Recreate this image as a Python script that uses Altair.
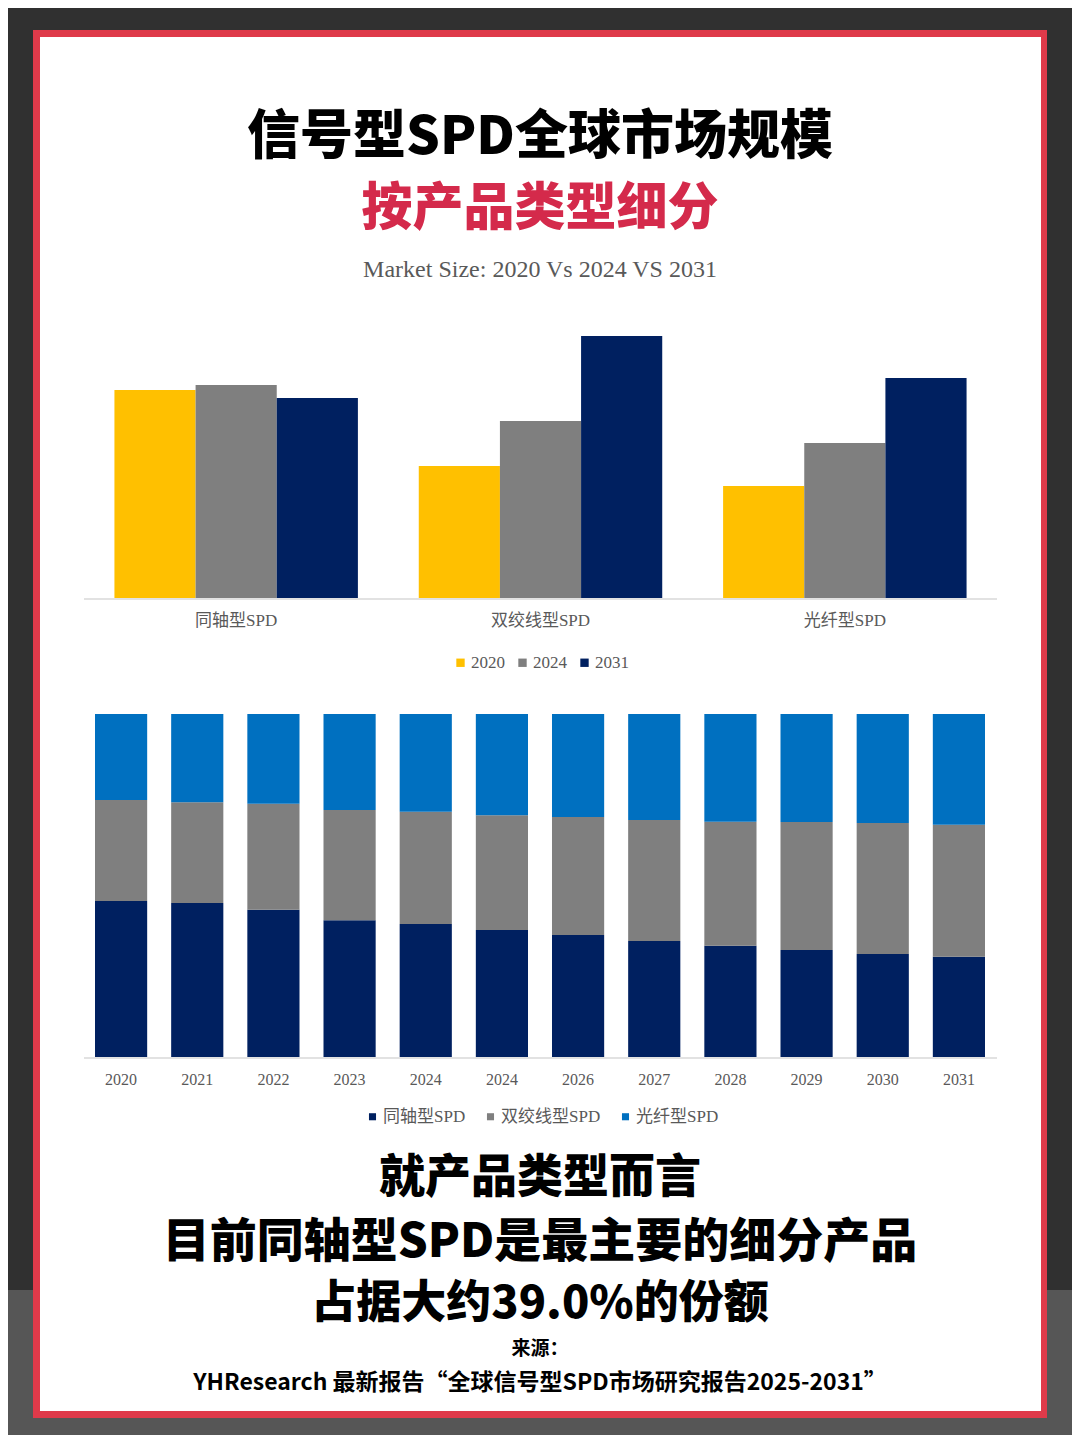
import altair as alt
import pandas as pd

# 数据
products = ["同轴型SPD", "双绞线型SPD", "光纤型SPD"]
years_cmp = ["2020", "2024", "2031"]
size_2020 = [20.8, 13.2, 11.2]
size_2024 = [21.3, 17.7, 15.5]
size_2031 = [20.0, 26.2, 22.0]

year_labels = ["2020", "2021", "2022", "2023", "2024", "2024",
               "2026", "2027", "2028", "2029", "2030", "2031"]
share_coax = [45.5, 44.9, 42.9, 39.9, 38.8, 37.0, 35.6, 33.8, 32.4, 31.2, 30.0, 29.2]
share_twist = [29.4, 29.4, 30.9, 32.1, 32.7, 33.5, 34.4, 35.3, 36.2, 37.3, 38.2, 38.5]
share_fiber = [25.1, 25.7, 26.2, 28.0, 28.5, 29.5, 30.0, 30.9, 31.4, 31.5, 31.8, 32.3]

W, H = 1064, 1427
O = 8  # 页面边距


def px(v):
    return v - O


LABEL_FONT = "Liberation Serif, Noto Sans CJK SC"
HEAD_FONT = "Noto Sans CJK SC"

# 背景与边框
def box(x1, x2, y1, y2, color):
    return alt.Chart(pd.DataFrame({"a": [0]})).mark_rect(color=color).encode(
        x=alt.value(px(x1)), x2=alt.value(px(x2)),
        y=alt.value(px(y1)), y2=alt.value(px(y2)))


bg_low = box(0, 1080, 1290, 1443, "#565656")
frame = box(33, 1047, 30, 1418, "#df3a4a")
inner = box(40, 1041, 37, 1411, "#ffffff")


def line(text, x, y, size, color="#000000", weight="normal", font=HEAD_FONT):
    return alt.Chart(pd.DataFrame({"t": [text]})).mark_text(
        font=font, fontSize=size, fontWeight=weight, color=color,
        align="center", baseline="middle").encode(
        text="t:N", x=alt.value(px(x)), y=alt.value(px(y)))


texts = [
    line("信号型SPD全球市场规模", 540, 138, 53, weight=900),
    line("按产品类型细分", 540, 210, 51, color="#d42a4b", weight=900),
    line("Market Size: 2020 Vs 2024 VS 2031", 540, 270, 24, color="#595959",
         font="Liberation Serif"),
    line("就产品类型而言", 540, 1178, 46, weight=900),
    line("目前同轴型SPD是最主要的细分产品", 540, 1243, 47, weight=900),
    line("占据大约39.0%的份额", 540, 1304, 45, weight=900),
    line("来源：", 540, 1349, 19, weight="bold"),
    line("YHResearch 最新报告“全球信号型SPD市场研究报告2025-2031”", 540, 1383, 23,
         weight="bold"),
]

# 图一：分组柱状图
df1 = pd.DataFrame({
    "product": products * 3,
    "year": [y for y in years_cmp for _ in products],
    "size": size_2020 + size_2024 + size_2031,
})
x1 = alt.Scale(domain=products, range=[px(84), px(997)], paddingInner=0.2, paddingOuter=0.1)

bars1 = alt.Chart(df1).mark_bar().encode(
    x=alt.X("product:N", scale=x1, axis=None),
    xOffset=alt.XOffset("year:N", scale=alt.Scale(domain=years_cmp, paddingInner=0, paddingOuter=0)),
    y=alt.Y("size:Q", scale=alt.Scale(domain=[0, 26.2], range=[px(598), px(336)], nice=False), axis=None),
    color=alt.Color("year:N", scale=alt.Scale(domain=years_cmp, range=["#ffc000", "#7f7f7f", "#002060"]),
                    legend=alt.Legend(title=None, orient="none", direction="horizontal",
                                      legendX=px(452), legendY=px(654), symbolType="square",
                                      symbolSize=70, labelFontSize=17, labelFont=LABEL_FONT,
                                      labelColor="#595959", columnPadding=9, labelOffset=2)),
)
labels1 = alt.Chart(pd.DataFrame({"product": products})).mark_text(
    font=LABEL_FONT, fontSize=17, color="#595959", baseline="middle").encode(
    x=alt.X("product:N", scale=x1, axis=None), text="product:N", y=alt.value(px(621)))
base1 = alt.Chart(pd.DataFrame({"a": [0]})).mark_rule(color="#d9d9d9", strokeWidth=1.5).encode(
    x=alt.value(px(84)), x2=alt.value(px(997)), y=alt.value(px(599)))
chart1 = alt.layer(base1, bars1, labels1)

# 图二：百分比堆积柱状图
keys = [f"k{i}" for i in range(len(year_labels))]
df2 = pd.DataFrame({
    "key": keys * 3,
    "type": [t for t in products for _ in keys],
    "ord": [i for i in range(3) for _ in keys],
    "share": share_coax + share_twist + share_fiber,
})
x2 = alt.Scale(domain=keys, range=[px(95), px(985)], paddingInner=0.315, paddingOuter=0)

bars2 = alt.Chart(df2).mark_bar().encode(
    x=alt.X("key:N", scale=x2, axis=None),
    y=alt.Y("share:Q", stack="normalize",
            scale=alt.Scale(domain=[0, 1], range=[px(1057), px(714)], nice=False), axis=None),
    order=alt.Order("ord:Q"),
    color=alt.Color("type:N", scale=alt.Scale(domain=products, range=["#002060", "#7f7f7f", "#0070c0"]),
                    legend=alt.Legend(title=None, orient="none", direction="horizontal",
                                      legendX=px(364), legendY=px(1108), symbolType="square",
                                      symbolSize=50, labelFontSize=17, labelFont=LABEL_FONT,
                                      labelColor="#595959", columnPadding=16, labelOffset=2)),
)
labels2 = alt.Chart(pd.DataFrame({"key": keys, "label": year_labels})).mark_text(
    font=LABEL_FONT, fontSize=16, color="#595959", baseline="middle").encode(
    x=alt.X("key:N", scale=x2, axis=None), text="label:N", y=alt.value(px(1080)))
base2 = alt.Chart(pd.DataFrame({"a": [0]})).mark_rule(color="#d9d9d9", strokeWidth=1.5).encode(
    x=alt.value(px(84)), x2=alt.value(px(997)), y=alt.value(px(1058)))
chart2 = alt.layer(base2, bars2, labels2)

chart = alt.layer(bg_low, frame, inner, *texts, chart1, chart2).resolve_scale(
    x="independent", y="independent", color="independent", xOffset="independent"
).properties(
    width=W, height=H, padding=0, autosize="none", background="#303030"
).configure_view(stroke=None)

chart.save("out.html", embed_options={"renderer": "svg", "actions": False})
